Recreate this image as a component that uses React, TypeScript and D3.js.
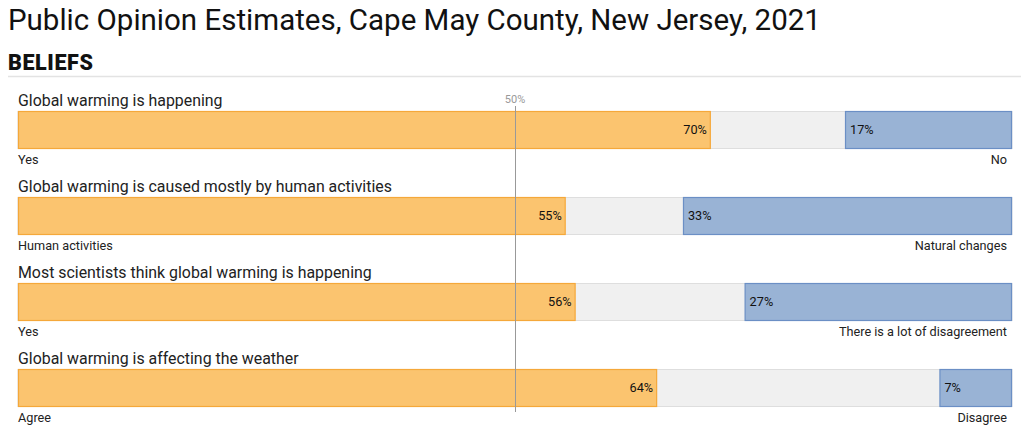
import React from "react";
import * as d3 from "d3";

const questions = [
  "Global warming is happening",
  "Global warming is caused mostly by human activities",
  "Most scientists think global warming is happening",
  "Global warming is affecting the weather",
];
const leftLabels = ["Yes", "Human activities", "Yes", "Agree"];
const rightLabels = ["No", "Natural changes", "There is a lot of disagreement", "Disagree"];
const leftValues = [69.7, 55.1, 56.1, 64.3];
const rightValues = [16.8, 33.1, 26.9, 7.3];
const midTick = 50;

const W = 1024;
const H = 432;

export default function App() {
  const x = d3.scaleLinear().domain([0, 100]).range([18, 1012]);
  const y = d3
    .scaleBand<number>()
    .domain(d3.range(questions.length))
    .range([111, 111 + 86 * questions.length])
    .paddingInner(0);
  const barH = 37;
  const font = "Roboto, 'Noto Sans', sans-serif";

  return (
    <svg
      width={W}
      height={H}
      style={{ position: "absolute", left: 0, top: 0, fontFamily: font }}
    >
      <rect x={0} y={0} width={W} height={H} fill="#fff" />
      <text x={8} y={30} fontSize={29.5} fill="#111">
        Public Opinion Estimates, Cape May County, New Jersey, 2021
      </text>
      <text x={8} y={70} fontSize={21.5} fontWeight={900} fill="#111" letterSpacing={0.6}>
        BELIEFS
      </text>
      <line x1={8} x2={1021} y1={76.5} y2={76.5} stroke="#e3e3e3" strokeWidth={1.5} />

      {questions.map((q, i) => {
        const top = y(i) as number;
        const lEnd = x(leftValues[i]);
        const rStart = x(100 - rightValues[i]);
        return (
          <g key={i}>
            <text x={18} y={top - 5} fontSize={15.9} fill="#222">
              {q}
            </text>
            <rect
              x={x(0)}
              y={top + 0.5}
              width={x(100) - x(0)}
              height={barH}
              fill="#f0f0f0"
              stroke="#dedede"
              strokeWidth={1}
            />
            <rect
              x={x(0) + 0.5}
              y={top + 0.5}
              width={lEnd - x(0) - 1}
              height={barH}
              fill="#fbc46f"
              stroke="#f5a83a"
              strokeWidth={1.2}
            />
            <rect
              x={rStart + 0.5}
              y={top + 0.5}
              width={x(100) - rStart - 1}
              height={barH}
              fill="#99b3d5"
              stroke="#6b8fc5"
              strokeWidth={1.2}
            />
            <text
              x={lEnd - 4}
              y={top + barH / 2 + 4.5}
              fontSize={12.7}
              fill="#111"
              textAnchor="end"
            >
              {Math.round(leftValues[i])}%
            </text>
            <text x={rStart + 5} y={top + barH / 2 + 4.5} fontSize={12.7} fill="#111">
              {Math.round(rightValues[i])}%
            </text>
            <text x={18} y={top + 53} fontSize={12.7} fill="#222">
              {leftLabels[i]}
            </text>
            <text x={1007} y={top + 53} fontSize={12.7} fill="#222" textAnchor="end">
              {rightLabels[i]}
            </text>
          </g>
        );
      })}

      <line
        x1={Math.round(x(midTick)) + 0.5}
        x2={Math.round(x(midTick)) + 0.5}
        y1={106}
        y2={412}
        stroke="#999"
        strokeWidth={1}
      />
      <text x={x(midTick)} y={103} fontSize={11} fill="#999" textAnchor="middle">
        {midTick}%
      </text>
    </svg>
  );
}
